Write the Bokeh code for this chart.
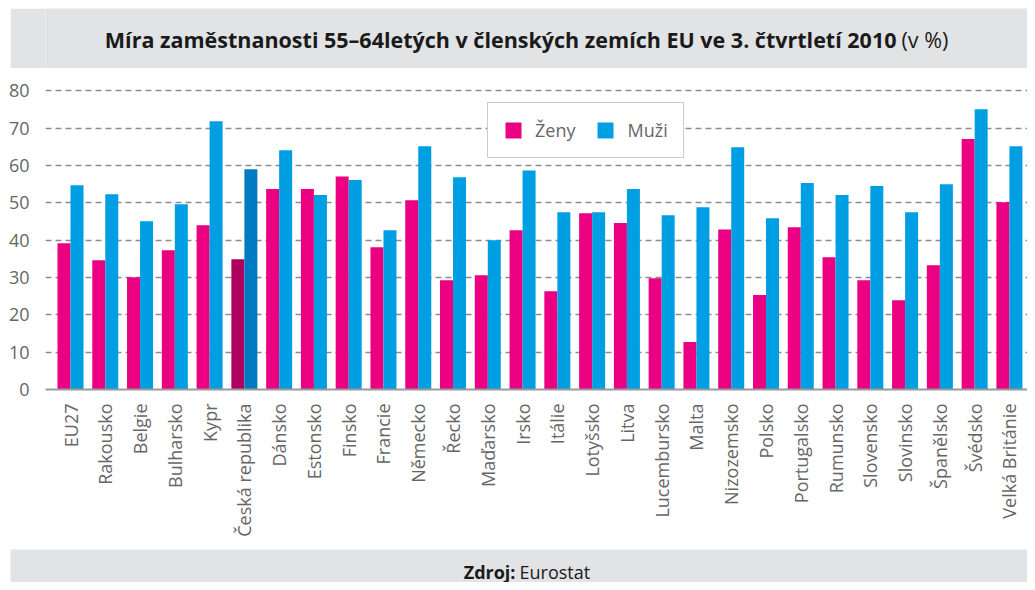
import math
from bokeh.plotting import figure
from bokeh.layouts import column, row
from bokeh.models import (ColumnDataSource, Range1d, FixedTicker, Label, Legend,
                          LegendItem, Spacer)
from bokeh.embed import file_html
from bokeh.resources import INLINE

countries = ["EU27", "Rakousko", "Belgie", "Bulharsko", "Kypr", "Česká republika",
             "Dánsko", "Estonsko", "Finsko", "Francie", "Německo", "Řecko",
             "Maďarsko", "Irsko", "Itálie", "Lotyšsko", "Litva", "Lucembursko",
             "Malta", "Nizozemsko", "Polsko", "Portugalsko", "Rumunsko",
             "Slovensko", "Slovinsko", "Španělsko", "Švédsko", "Velká Británie"]
zeny = [39.2, 34.6, 30.1, 37.3, 44.0, 34.9, 53.7, 53.7, 57.1, 38.1, 50.7, 29.3,
        30.6, 42.7, 26.3, 47.2, 44.6, 29.8, 12.7, 42.9, 25.3, 43.5, 35.4,
        29.3, 23.9, 33.3, 67.1, 50.2]
muzi = [54.7, 52.3, 45.1, 49.6, 71.9, 59.0, 64.1, 52.1, 56.1, 42.7, 65.2, 56.9,
        40.0, 58.7, 47.5, 47.5, 53.7, 46.7, 48.8, 64.9, 45.9, 55.3, 52.1,
        54.5, 47.5, 55.0, 75.1, 65.2]
highlight = "Česká republika"
y_ticks = [0, 10, 20, 30, 40, 50, 60, 70, 80]
title_bold = "Míra zaměstnanosti 55–64letých v členských zemích EU ve 3. čtvrtletí 2010"
title_unit = "(v %)"
source_bold = "Zdroj:"
source_text = "Eurostat"

PINK, BLUE = "#EA0081", "#009FE3"
PINK_HL, BLUE_HL = "#AE005F", "#007AC2"
GREY_TXT = "#666666"
BAND = "#E2E3E5"
FONT = "Open Sans"
W = 1027


def band_figure(height, left):
    f = figure(width=W - 10, height=height, output_backend="svg", toolbar_location=None,
               x_axis_type=None, y_axis_type=None,
               x_range=Range1d(0, 1), y_range=Range1d(0, 1),
               min_border_left=left, min_border_right=0, min_border_top=0,
               min_border_bottom=0)
    f.outline_line_color = None
    f.background_fill_color = BAND
    f.border_fill_color = BAND
    f.grid.visible = False
    return f


# ---- title band (page y 8..68) ----
pt = band_figure(60, 35)
pt.add_layout(Label(x=851, y=29, x_units="screen", y_units="screen", text=title_bold,
                    text_align="right", text_baseline="middle", text_font=FONT,
                    text_font_size="21.5px", text_font_style="bold", text_color="#1A1A1A"))
pt.add_layout(Label(x=856, y=29, x_units="screen", y_units="screen", text=title_unit,
                    text_align="left", text_baseline="middle", text_font=FONT,
                    text_font_size="21.5px", text_color="#1A1A1A"))

# ---- main chart (page y 68..549) ----
idx = list(range(len(countries)))
bw = 0.374
src = ColumnDataSource(dict(
    xz=[i - bw / 2 for i in idx],
    xm=[i + bw / 2 for i in idx],
    zeny=zeny, muzi=muzi,
    cz=[PINK_HL if c == highlight else PINK for c in countries],
    cm=[BLUE_HL if c == highlight else BLUE for c in countries],
))

p = figure(width=W, height=481, output_backend="svg", toolbar_location=None,
           x_range=Range1d(-0.719, 27.52), y_range=Range1d(0, 83.86),
           min_border_left=45, min_border_right=0, min_border_top=8,
           min_border_bottom=160)
p.outline_line_color = None

rz = p.vbar(x="xz", top="zeny", width=bw, bottom=0, source=src,
            fill_color="cz", line_color=None)
rm = p.vbar(x="xm", top="muzi", width=bw, bottom=0, source=src,
            fill_color="cm", line_color=None)

p.xaxis.ticker = FixedTicker(ticks=idx)
p.xaxis.major_label_overrides = {i: c for i, c in zip(idx, countries)}
p.xaxis.major_label_orientation = math.pi / 2
p.xaxis.major_tick_line_color = None
p.xaxis.minor_tick_line_color = None
p.xaxis.axis_line_color = "#9A9A9A"
p.xaxis.axis_line_width = 2
p.xaxis.major_label_text_font = FONT
p.xaxis.major_label_text_font_size = "18px"
p.xaxis.major_label_text_color = GREY_TXT
p.xaxis.major_label_standoff = 8

p.yaxis.ticker = FixedTicker(ticks=y_ticks)
p.yaxis.axis_line_color = None
p.yaxis.major_tick_line_color = None
p.yaxis.minor_tick_line_color = None
p.yaxis.major_label_text_font = FONT
p.yaxis.major_label_text_font_size = "18px"
p.yaxis.major_label_text_color = GREY_TXT
p.yaxis.major_label_standoff = 10

p.xgrid.grid_line_color = None
p.ygrid.ticker = FixedTicker(ticks=y_ticks[1:])
p.ygrid.grid_line_color = "#8C8C8C"
p.ygrid.grid_line_width = 1.5
p.ygrid.grid_line_dash = "6 4"

legend = Legend(items=[LegendItem(label="Ženy", renderers=[rz], index=0),
                       LegendItem(label="Muži", renderers=[rm], index=0)],
                orientation="horizontal", location=(442, 231),
                glyph_width=20, glyph_height=20, label_standoff=12, spacing=20,
                padding=15, border_line_color="#9A9A9A", border_line_width=1.5,
                label_text_font=FONT, label_text_font_size="18px",
                label_text_color=GREY_TXT, background_fill_alpha=1)
p.add_layout(legend)

# ---- footer band (page y 549..582) ----
pf = band_figure(33, 0)
pf.add_layout(Label(x=505, y=11, x_units="screen", y_units="screen", text=source_bold,
                    text_align="right", text_baseline="middle", text_font=FONT,
                    text_font_size="18px", text_font_style="bold", text_color="#1A1A1A"))
pf.add_layout(Label(x=509, y=11, x_units="screen", y_units="screen", text=source_text,
                    text_align="left", text_baseline="middle", text_font=FONT,
                    text_font_size="18px", text_color="#1A1A1A"))

layout = column(Spacer(height=8),
                row(Spacer(width=10), pt, spacing=0),
                p,
                row(Spacer(width=10), pf, spacing=0),
                spacing=0)
open("out.html", "w").write(file_html(layout, INLINE))
